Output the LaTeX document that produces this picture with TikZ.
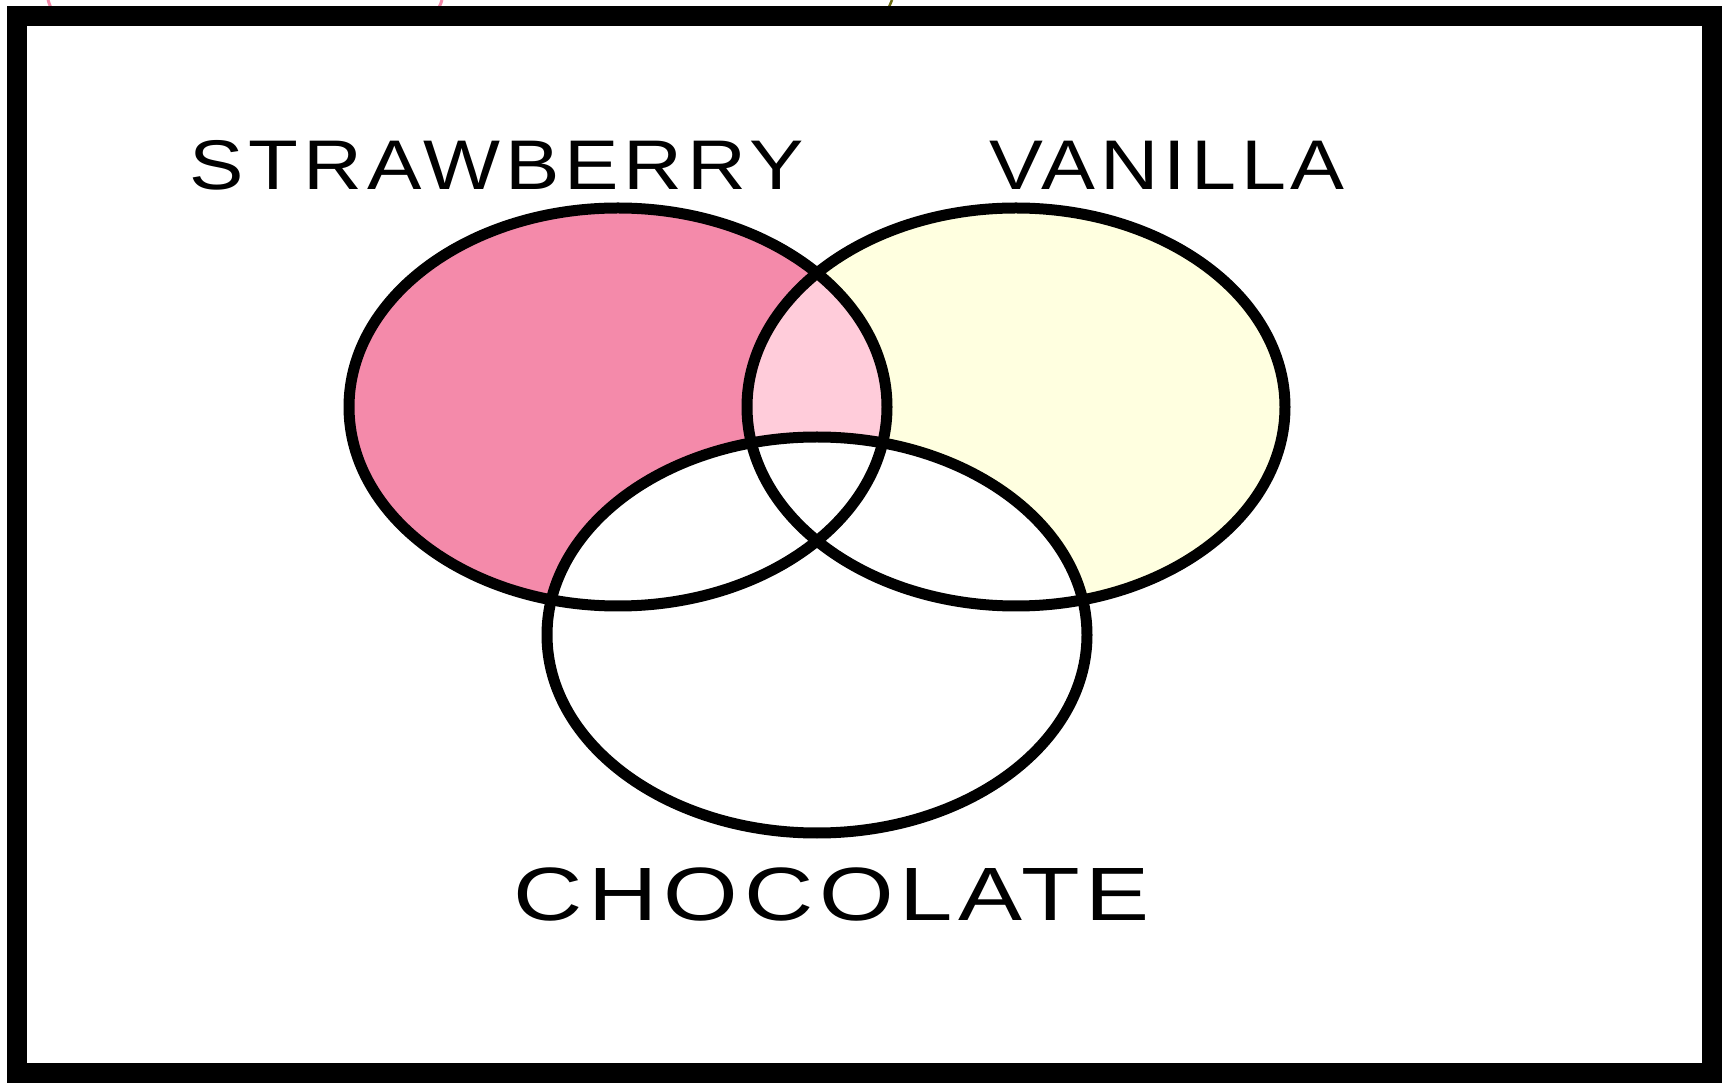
\documentclass[tikz,border=0pt]{standalone}
\usepackage{fontspec}
\setmainfont{Liberation Sans}
\newfontfamily\labelfont[LetterSpace=6]{Liberation Sans}
\usetikzlibrary{positioning}
\definecolor{strawpink}{HTML}{F48AAA}
\definecolor{mixpink}{HTML}{FFCCDA}
\definecolor{vanillacream}{HTML}{FFFFE0}
\definecolor{strayolive}{HTML}{6B6B10}

\begin{document}
\begin{tikzpicture}[x=0.2mm,y=-0.2mm,
  outline/.style={line width=2.2mm},
  flavour/.style={font=\labelfont\fontsize{40}{42}\selectfont, inner sep=0pt}]
  \useasboundingbox (0,0) rectangle (1722,1083);
  % stray marks above the frame
  \draw[strawpink, line width=0.6mm] (48,0) .. controls (50,6) .. (54,14);
  \draw[strawpink, line width=0.6mm] (442,0) .. controls (440,6) .. (434,14);
  \draw[strayolive, line width=0.5mm] (892,0) -- (886,14);
  % fills
  \fill[strawpink] (618,407) ellipse (269 and 199);
  \fill[vanillacream] (1016,407) ellipse (269 and 199);
  \begin{scope}
    \clip (618,407) ellipse (269 and 199);
    \fill[mixpink] (1016,407) ellipse (269 and 199);
  \end{scope}
  \fill[white] (817,635) ellipse (270 and 198);
  % outlines
  \draw[outline] (618,407) ellipse (269 and 199);
  \draw[outline] (1016,407) ellipse (269 and 199);
  \draw[outline] (817,635) ellipse (270 and 198);
  % frame
  \draw[line width=4mm] (17,16) rectangle (1712,1073);
  % labels
  \node[flavour] (straw) at (497,165) {\scalebox{1.16}[1]{STRAWBERRY}};
  \node[flavour] (vanilla) at (1167,165) {\scalebox{1.15}[1]{VANILLA}};
  \node[flavour, font=\labelfont\fontsize{43}{45}\selectfont] (choc) at (832,894) {\scalebox{1.27}[1]{CHOCOLATE}};
\end{tikzpicture}
\end{document}
